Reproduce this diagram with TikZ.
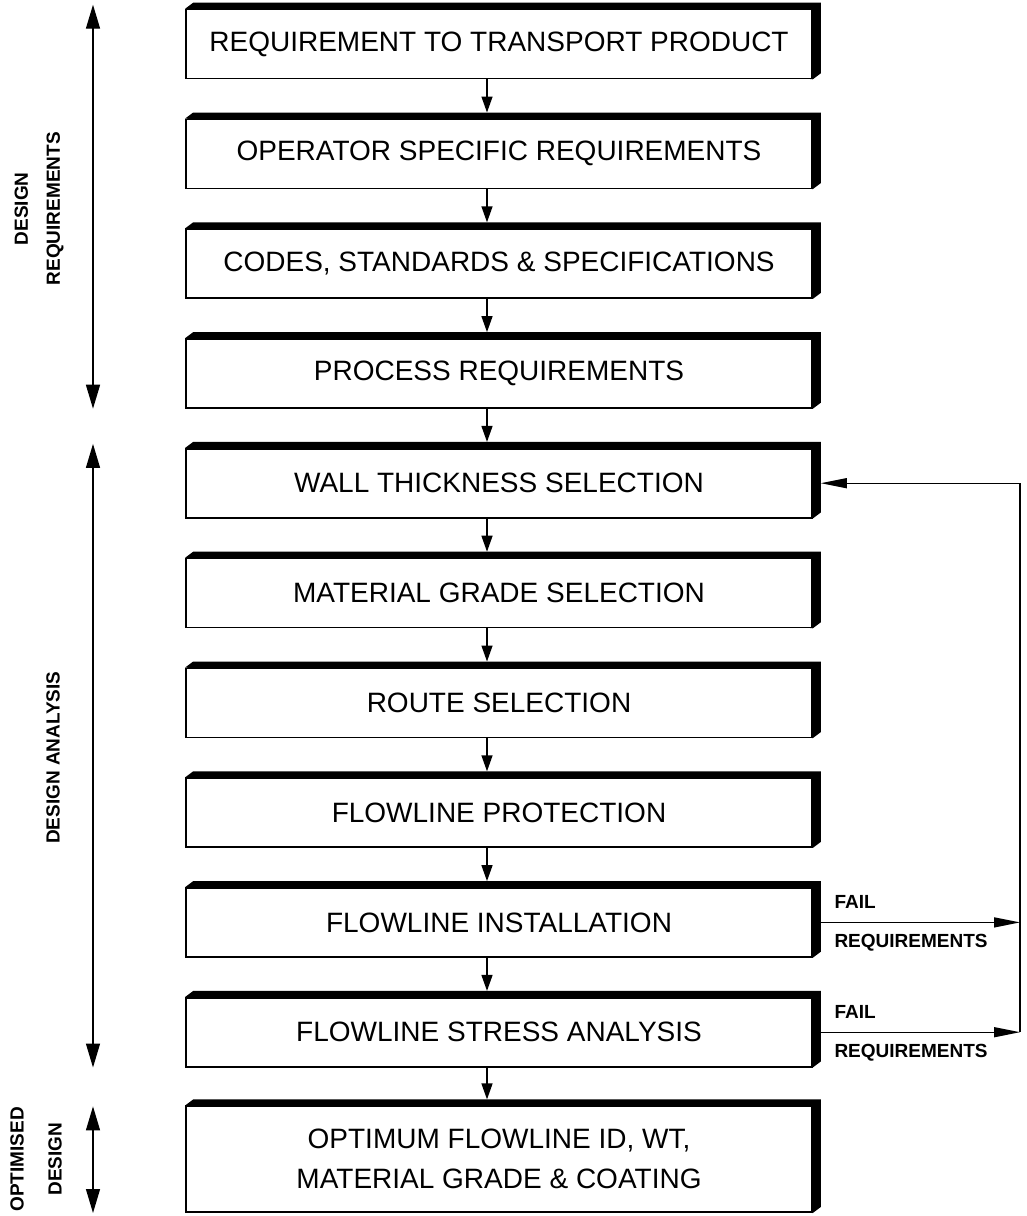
\documentclass[tikz,border=0pt]{standalone}
\usepackage{fontspec}
\setmainfont{Liberation Sans}
\usetikzlibrary{arrows.meta,positioning,calc,backgrounds}

\begin{document}
\begin{tikzpicture}[
  x=1pt, y=1pt, >={Triangle[length=16pt, width=11pt]},
  stage/.style={draw=black, line width=1.6pt, fill=white, minimum width=626pt, minimum height=69pt, inner sep=0pt, align=center, font=\fontsize{28}{40}\selectfont},
  flow/.style={->, line width=1.4pt},
  span/.style={{Triangle[length=24pt, width=14pt]}-{Triangle[length=24pt, width=14pt]}, line width=1.4pt},
  back/.style={-{Triangle[length=26pt, width=10pt]}, line width=1.4pt},
  side/.style={font=\fontsize{19}{32}\selectfont\bfseries, align=center, rotate=90, inner sep=0pt},
  note/.style={font=\fontsize{19}{22}\selectfont\bfseries, inner sep=0pt}
]
\useasboundingbox (0,0) rectangle (1026,-1216);
% ---------------- design stages
\node[stage] (transport) at (499,-44) {REQUIREMENT TO TRANSPORT PRODUCT};
\node[stage, below=39.2pt of transport] (operator) {OPERATOR SPECIFIC REQUIREMENTS};
\node[stage, below=39.2pt of operator] (codes) {CODES, STANDARDS \& SPECIFICATIONS};
\node[stage, below=39.2pt of codes] (process) {PROCESS REQUIREMENTS};
\node[stage, below=39.2pt of process] (wall) {WALL THICKNESS SELECTION};
\node[stage, below=39.2pt of wall] (grade) {MATERIAL GRADE SELECTION};
\node[stage, below=39.2pt of grade] (route) {ROUTE SELECTION};
\node[stage, below=39.2pt of route] (protect) {FLOWLINE PROTECTION};
\node[stage, below=39.2pt of protect] (install) {FLOWLINE INSTALLATION};
\node[stage, below=39.2pt of install] (stress) {FLOWLINE STRESS ANALYSIS};
\node[stage, below=37.9pt of stress, minimum height=106pt] (optimum) {OPTIMUM FLOWLINE ID, WT,\\MATERIAL GRADE \& COATING};
% ---------------- raised top and right edges
\begin{scope}[on background layer]
\foreach \n in {transport,operator,codes,process,wall,grade,route,protect,install,stress,optimum}
  \fill (\n.north west) -- ++(8,6) -- ($(\n.north east)+(8,6)$) -- ($(\n.south east)+(8,6)$) -- (\n.south east) -- cycle;
\end{scope}
% ---------------- downward flow
\foreach \a/\b in {transport/operator,operator/codes,codes/process,process/wall,wall/grade,grade/route,route/protect,protect/install,install/stress,stress/optimum}
  \draw[flow] ([xshift=-12pt]\a.south) -- ([xshift=-12pt, yshift=6pt]\b.north);
% ---------------- phase spans on the left
\coordinate (spine) at (93,0);
\draw[span] ([yshift=4pt]spine |- transport.north) -- (spine |- process.south);
\draw[span] ([yshift=4pt]spine |- wall.north) -- (spine |- stress.south);
\draw[span] ([yshift=-1pt]spine |- optimum.north) -- (spine |- optimum.south);
\node[side] (reqlabel) at ($(spine |- transport.north)!0.5!(spine |- process.south)+(-54,0)$) {DESIGN\\REQUIREMENTS};
\node[side] (analabel) at ($(spine |- wall.north)!0.5!(spine |- stress.south)+(-40,0)$) {DESIGN ANALYSIS};
\node[side] (optlabel) at ($(spine |- optimum.north)!0.5!(spine |- optimum.south)+(-57,0)$) {OPTIMISED\\[6pt]DESIGN};
% ---------------- feedback loop
\coordinate (loop) at (1020,0);
\draw[back] ([xshift=8pt]install.east) -- (loop |- install.east)
  node[note, pos=0, anchor=south west, xshift=13pt, yshift=13pt] (fail1) {FAIL}
  node[note, pos=0, anchor=north west, xshift=13pt, yshift=-11pt] (req1) {REQUIREMENTS};
\draw[back] ([xshift=8pt]stress.east) -- (loop |- stress.east)
  node[note, pos=0, anchor=south west, xshift=13pt, yshift=13pt] (fail2) {FAIL}
  node[note, pos=0, anchor=north west, xshift=13pt, yshift=-11pt] (req2) {REQUIREMENTS};
\draw[back] (loop |- stress.east) -- (loop |- wall.east) -- ([xshift=8pt]wall.east);
\end{tikzpicture}
\end{document}
